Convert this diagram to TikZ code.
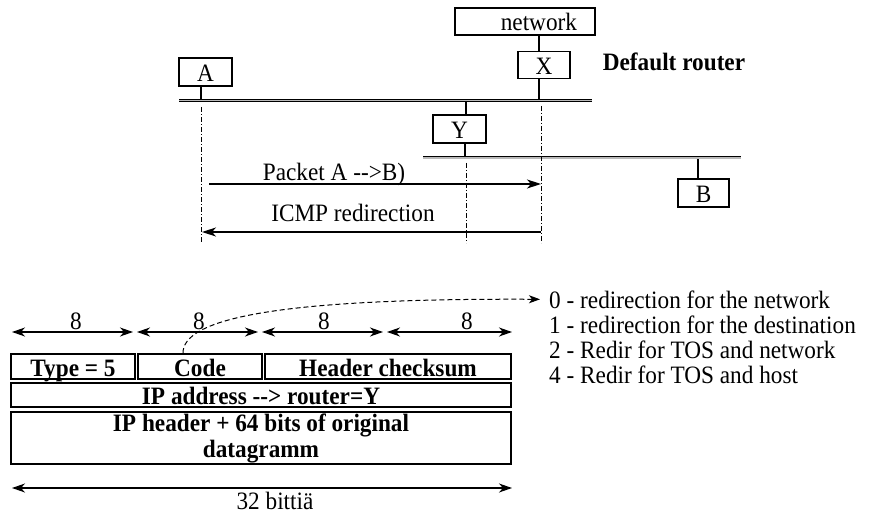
\documentclass[tikz,border=0pt]{standalone}
\usepackage{fontspec}
\setmainfont{Liberation Serif}[FakeStretch=0.93]
\usetikzlibrary{arrows.meta}
\newcommand\figfont{\fontsize{25}{26}\selectfont}
\newcommand\figbold{\fontsize{25}{26}\selectfont\bfseries}
\begin{document}
\begin{tikzpicture}[x=1pt,y=-1pt,
  hostbox/.style={draw, line width=1.1pt, inner sep=0pt, minimum height=28pt,
                  text height=19pt, text depth=0pt, font=\figfont},
  lbl/.style={inner sep=0pt, anchor=base, font=\figfont},
  field/.style={draw, line width=2pt, inner sep=0pt, font=\figbold},
  bus/.style={double=gray!55, double distance=1.2pt, line width=0.9pt},
  tap/.style={line width=1.1pt},
  ddot/.style={dash pattern=on 5pt off 2pt on 1pt off 2pt, line width=0.9pt},
  arr/.style={-{Stealth[length=14pt,width=9pt,inset=4pt]}, line width=1.1pt},
  dimarr/.style={{Stealth[length=13pt,width=9pt,inset=4pt]}-{Stealth[length=13pt,width=9pt,inset=4pt]}, line width=1.1pt},
]
\useasboundingbox (0,0) rectangle (872,513);

% ---------- network topology ----------
\node[hostbox, minimum width=140pt, text width=104pt, inner xsep=18pt, align=right,
      minimum height=27pt] (net) at (525,21.5) {network};
\node[hostbox, minimum width=52pt, minimum height=27pt] (X) at (544,65) {X};
\node[hostbox, minimum width=53pt] (A) at (205.5,72) {A};
\node[hostbox, minimum width=53pt] (Y) at (459.5,129) {Y};
\node[hostbox, minimum width=51pt] (B) at (703.5,193) {B};
\node[lbl, font=\figbold] (defr) at (674,71) {Default router};

% bus end points and taps
\coordinate (bus1L) at (179,100.5);
\coordinate (bus1R) at (592,100.5);
\coordinate (bus2L) at (423,158);
\coordinate (bus2R) at (741,158);
\coordinate (tapA) at (201,100.5);
\coordinate (tapX) at (539,100.5);
\coordinate (tapY1) at (466,100.5);
\coordinate (tapY2) at (465,158);
\coordinate (tapB) at (698,158);

\draw[tap] (tapX |- net.south) -- (tapX |- X.north);
\draw[tap] (tapX |- X.south) -- (tapX);
\draw[tap] (tapA |- A.south) -- (tapA);
\draw[tap] (tapY1) -- (tapY1 |- Y.north);
\draw[tap] (tapY2 |- Y.south) -- (tapY2);
\draw[tap] (tapB) -- (tapB |- B.north);

\draw[bus] (bus1L) -- (bus1R);
\draw[bus] (bus2L) -- (bus2R);

% time lines
\coordinate (lA1) at (201,107);  \coordinate (lA2) at (201,243);
\coordinate (lY1) at (466,163);  \coordinate (lY2) at (466,243);
\coordinate (lX1) at (541,106);  \coordinate (lX2) at (541,243);
\draw[ddot] (lA1) -- (lA2);
\draw[ddot] (lY1) -- (lY2);
\draw[ddot] (lX1) -- (lX2);

% messages
\coordinate (pk1) at (209,184);  \coordinate (pk2) at (541,184);
\coordinate (ic1) at (541,232);  \coordinate (ic2) at (202,232);
\draw[arr] (pk1) -- (pk2);
\draw[arr] (ic1) -- (ic2);
\node[lbl] (pklbl) at (334,181) {Packet A -{}-{}>B)};
\node[lbl] (iclbl) at (353,222) {ICMP redirection};

% ---------- ICMP redirect message format ----------
\coordinate (w0) at (12,332);   \coordinate (w1) at (133,332);
\coordinate (w2) at (137,332);  \coordinate (w3) at (258,332);
\coordinate (w4) at (262,332);  \coordinate (w5) at (383,332);
\coordinate (w6) at (387,332);  \coordinate (w7) at (512,332);
\draw[dimarr] (w0) -- (w1);
\draw[dimarr] (w2) -- (w3);
\draw[dimarr] (w4) -- (w5);
\draw[dimarr] (w6) -- (w7);
\node[lbl] (n1) at (76,329) {8};
\node[lbl] (n2) at (199,329) {8};
\node[lbl] (n3) at (324,329) {8};
\node[lbl] (n4) at (467,329) {8};

\node[field, minimum width=124pt, minimum height=25pt, text height=19pt, text depth=0pt]
  (type) at (73,366.5) {Type = 5};
\node[field, minimum width=124pt, minimum height=25pt, text height=19pt, text depth=0pt]
  (code) at (200,366.5) {Code};
\node[field, minimum width=246pt, minimum height=25pt, text height=19pt, text depth=0pt]
  (csum) at (388,366.5) {Header checksum};
\node[field, minimum width=500pt, minimum height=24pt, text height=18pt, text depth=0pt]
  (ipaddr) at (261,395) {IP address -{}-{}> router=Y};
\node[field, minimum width=500pt, minimum height=52pt, align=center]
  (iphdr) at (261,438) {IP header + 64 bits of original\\datagramm};

\coordinate (t0) at (12,488);  \coordinate (t1) at (512,488);
\draw[dimarr] (t0) -- (t1);
\node[lbl] (bits) at (275,509) {32 bittiä};

% code values
\node[lbl, anchor=base west] (c0) at (549,308) {0 - redirection for the network};
\node[lbl, anchor=base west] (c1) at (549,333) {1 - redirection for the destination};
\node[lbl, anchor=base west] (c2) at (549,358) {2 - Redir for TOS and network};
\node[lbl, anchor=base west] (c4) at (549,383) {4 - Redir for TOS and host};

\draw[dash pattern=on 5pt off 3pt, line width=1pt,
      -{Stealth[length=11pt,width=8pt,inset=3pt]}]
  ([xshift=-17pt]code.north) .. controls (183,320) and (270,298) .. ([xshift=-9pt]c0.west);
\end{tikzpicture}
\end{document}
